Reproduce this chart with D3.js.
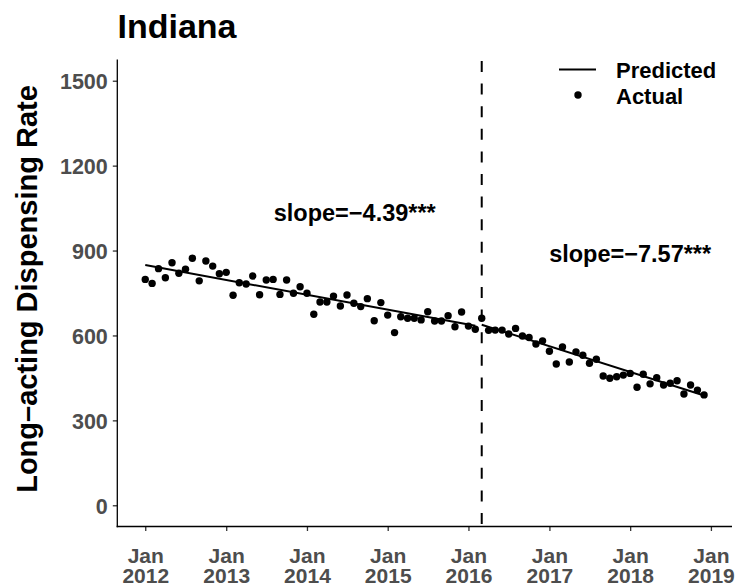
<!DOCTYPE html>
<html>
<head>
<meta charset="utf-8">
<script src="https://cdn.jsdelivr.net/npm/d3@7"></script>
<style>
  body { margin: 0; background: #fff; }
  text { font-family: "Liberation Sans", Arial, Helvetica, sans-serif; font-weight: bold; }
</style>
</head>
<body>
<svg id="chart" width="751" height="588"></svg>
<script>
// ---- data ----
const chartTitle = "Indiana";
const yTitle = "Long\u2013acting Dispensing Rate";
const firstMonth = "2012-01-01";
const actualValues = [798,784,836,804,857,820,834,873,793,863,845,818,
                      823,742,786,782,810,744,796,798,745,796,749,772,
                      749,675,718,718,739,704,743,714,702,730,652,716,
                      672,610,666,661,661,655,684,651,651,670,631,683,
                      633,622,661,618,619,619,605,625,598,593,570,581,
                      544,499,559,506,542,530,502,516,457,449,454,460,
                      466,417,463,429,451,425,431,440,393,425,407,390];
const preDates = ["2012-01-01", "2016-02-01"];
const preValues = [849, 634];
const postDates = ["2016-03-01", "2018-12-01"];
const postValues = [638, 388];
const interventionDate = "2016-03-01";
const yTicks = [0, 300, 600, 900, 1200, 1500];
const xTickDates = ["2012-01-01","2013-01-01","2014-01-01","2015-01-01","2016-01-01","2017-01-01","2018-01-01","2019-01-01"];
const slopeLabels = ["slope=\u22124.39***", "slope=\u22127.57***"];
const slopeDates = ["2014-08-05", "2018-01-01"];
const slopeValues = [1036, 891];
const legendLabels = ["Predicted", "Actual"];

// ---- layout ----
const svg = d3.select("#chart");
const P = { left: 117.3, right: 732, top: 59.5, bottom: 526.5 };
const parse = d3.utcParse("%Y-%m-%d");
const dates = d3.utcMonth.range(parse(firstMonth), d3.utcMonth.offset(parse(firstMonth), actualValues.length));
const d0 = dates[0], d1 = dates[dates.length - 1];
const span = d1 - d0;
const x = d3.scaleUtc().domain([new Date(+d0 - span * 0.05), new Date(+d1 + span * 0.05)]).range([P.left, P.right]);
const y = d3.scaleLinear().domain([-75, 1575]).range([P.bottom, P.top]);

const tickColor = "#333333", labelColor = "#4D4D4D";

// x axis
const xAxis = d3.axisBottom(x).tickValues(xTickDates.map(parse)).tickSize(4.5).tickPadding(4).tickFormat(() => "");
const gx = svg.append("g").attr("transform", `translate(0,${P.bottom})`).call(xAxis);
gx.select(".domain").remove();
gx.selectAll(".tick line").attr("stroke", tickColor).attr("stroke-width", 1.3);
gx.selectAll(".tick").each(function(d) {
  const t = d3.select(this).append("text").attr("fill", labelColor).attr("font-size", 21)
    .attr("text-anchor", "middle");
  t.append("tspan").attr("x", 0).attr("y", 36).text(d3.utcFormat("%b")(d));
  t.append("tspan").attr("x", 0).attr("y", 56.5).text(d3.utcFormat("%Y")(d));
});

// y axis
const yAxis = d3.axisLeft(y).tickValues(yTicks).tickFormat(d3.format("d")).tickSize(4.5).tickPadding(5);
const gy = svg.append("g").attr("transform", `translate(${P.left},0)`).call(yAxis);
gy.select(".domain").remove();
gy.selectAll(".tick line").attr("stroke", tickColor).attr("stroke-width", 1.3);
gy.selectAll(".tick text").attr("fill", labelColor).attr("font-size", 21.5)
  .attr("font-family", "Liberation Sans, Arial, sans-serif").attr("dy", "0.36em");

// axis lines
svg.append("line").attr("x1", P.left).attr("x2", P.left).attr("y1", P.top).attr("y2", P.bottom + 0.65)
  .attr("stroke", "#000").attr("stroke-width", 1.3);
svg.append("line").attr("x1", P.left - 0.65).attr("x2", P.right).attr("y1", P.bottom).attr("y2", P.bottom)
  .attr("stroke", "#000").attr("stroke-width", 1.3);

// intervention line
svg.append("line")
  .attr("x1", x(parse(interventionDate))).attr("x2", x(parse(interventionDate)))
  .attr("y1", P.top + 1.5).attr("y2", P.bottom)
  .attr("stroke", "#000").attr("stroke-width", 2).attr("stroke-dasharray", "11,11.6");

// predicted lines
const line = d3.line().x(d => x(d[0])).y(d => y(d[1]));
[[preDates, preValues], [postDates, postValues]].forEach(([ds, vs]) => {
  svg.append("path").datum(ds.map((d, i) => [parse(d), vs[i]]))
    .attr("d", line).attr("fill", "none").attr("stroke", "#000").attr("stroke-width", 2);
});

// actual points
svg.append("g").selectAll("circle").data(actualValues).join("circle")
  .attr("cx", (d, i) => x(dates[i])).attr("cy", d => y(d)).attr("r", 3.7).attr("fill", "#000");

// slope annotations
slopeLabels.forEach((s, i) => {
  svg.append("text").attr("x", x(parse(slopeDates[i]))).attr("y", y(slopeValues[i]))
    .attr("dy", "0.36em").attr("text-anchor", "middle").attr("font-size", 23.5).attr("fill", "#000").text(s);
});

// title
svg.append("text").attr("x", 117.5).attr("y", 37.7).attr("font-size", 34).attr("fill", "#000").text(chartTitle);

// y title
svg.append("text").attr("transform", `translate(37,289) rotate(-90)`)
  .attr("text-anchor", "middle").attr("font-size", 29).attr("fill", "#000").text(yTitle);

// legend
const lg = svg.append("g");
lg.append("line").attr("x1", 559).attr("x2", 596).attr("y1", 69.5).attr("y2", 69.5).attr("stroke", "#000").attr("stroke-width", 2);
lg.append("circle").attr("cx", 578).attr("cy", 95).attr("r", 3.7).attr("fill", "#000");
lg.append("text").attr("x", 616).attr("y", 77.5).attr("font-size", 22).attr("fill", "#000").text(legendLabels[0]);
lg.append("text").attr("x", 616).attr("y", 104).attr("font-size", 22).attr("fill", "#000").text(legendLabels[1]);
</script>
</body>
</html>
